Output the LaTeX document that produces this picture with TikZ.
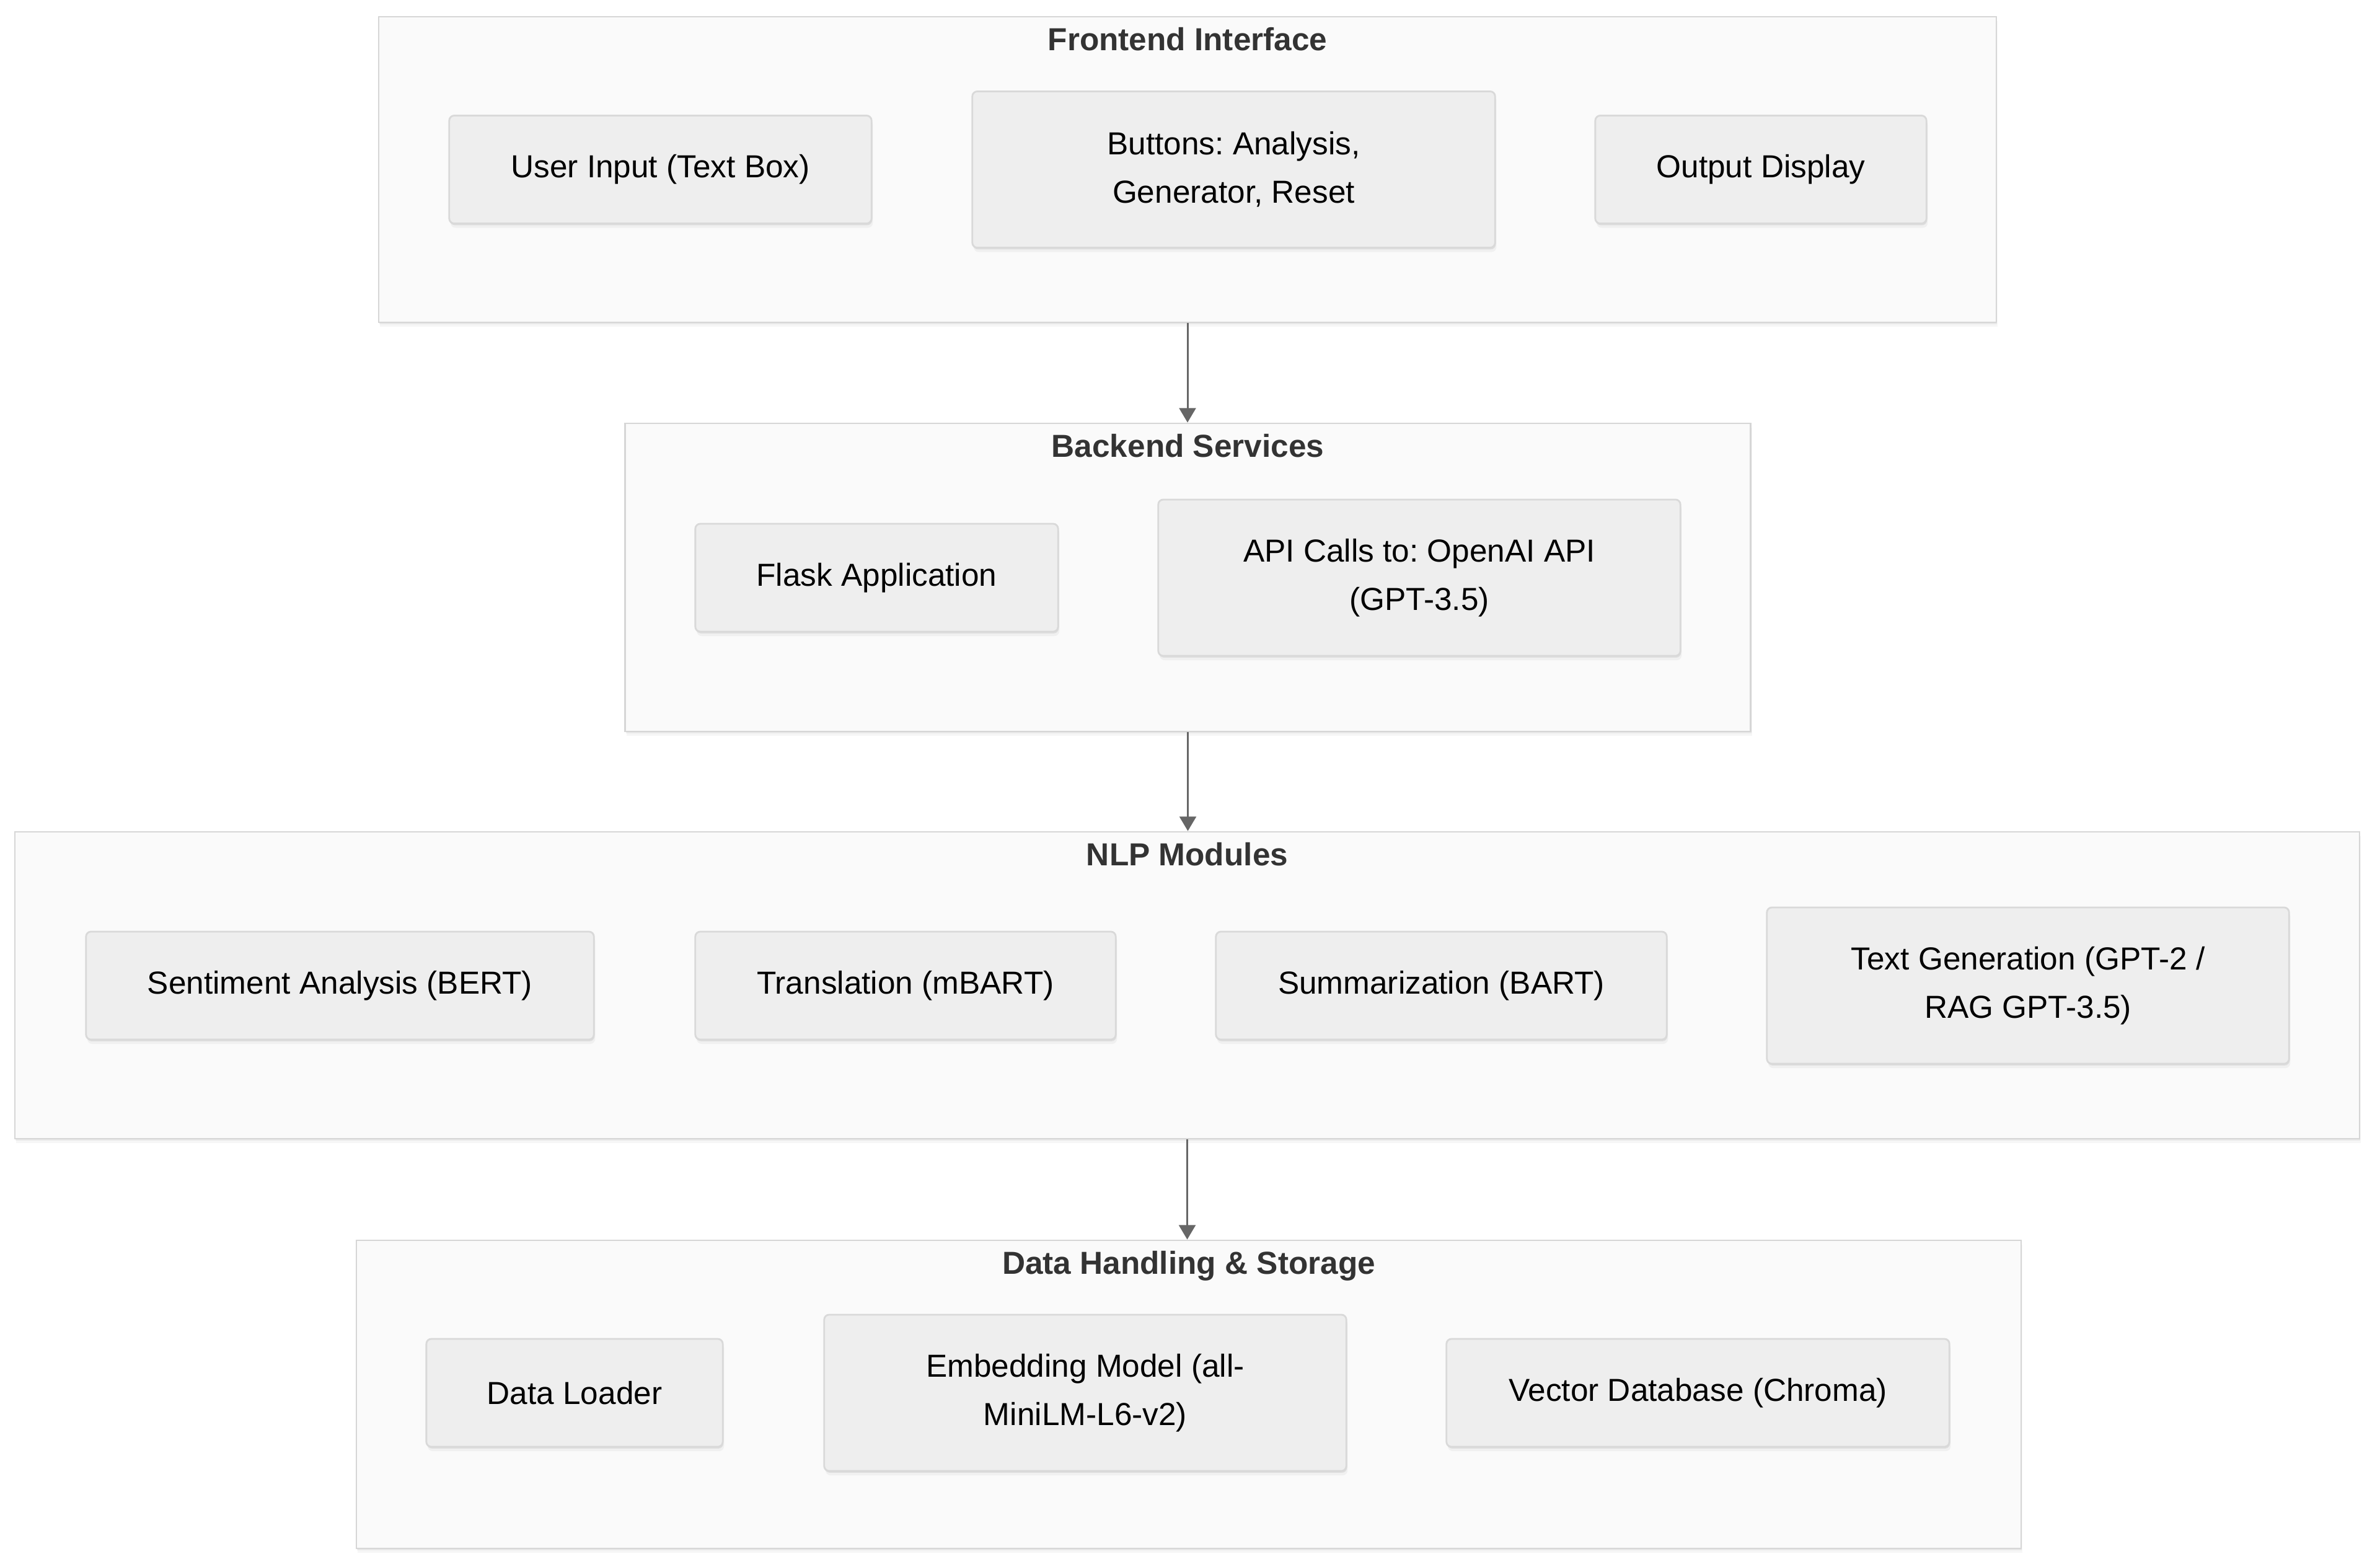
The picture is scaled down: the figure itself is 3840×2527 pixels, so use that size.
\documentclass[tikz,border=0pt]{standalone}
\usepackage{fontspec}
\setmainfont{Liberation Sans}
\frenchspacing
\usetikzlibrary{arrows.meta,shadows}
\definecolor{layerfill}{HTML}{FAFAFA}
\definecolor{layerline}{HTML}{D6D6D6}
\definecolor{modfill}{HTML}{EEEEEE}
\definecolor{modline}{HTML}{D9D9D9}
\definecolor{headtext}{HTML}{333333}
\definecolor{flowline}{HTML}{666666}

\begin{document}
\begin{tikzpicture}[x=0.01cm,y=-0.01cm,
    layer/.style={draw=layerline, line width=0.7pt, fill=layerfill, inner sep=0pt,
      drop shadow={shadow xshift=0.3pt, shadow yshift=-0.8pt, opacity=.12},
      drop shadow={shadow xshift=0.6pt, shadow yshift=-2pt, opacity=.07}},
    heading/.style={anchor=base, text=headtext, font=\fontsize{14.6pt}{18pt}\selectfont\bfseries},
    module/.style={draw=modline, line width=0.8pt, fill=modfill, rounded corners=2.3pt,
      minimum height=1.74cm, align=center, font=\fontsize{14.6pt}{22.2pt}\selectfont,
      drop shadow={shadow xshift=0.3pt, shadow yshift=-0.8pt, opacity=.15},
      drop shadow={shadow xshift=0.6pt, shadow yshift=-2pt, opacity=.08}},
    tall/.style={minimum height=2.52cm},
    flow/.style={draw=flowline, line width=0.85pt, -{Triangle[width=7.6pt,length=6.6pt]}}]
  \useasboundingbox (0,0) rectangle (3840,2527);

  % frontend
  \node[layer, minimum width=26.08cm, minimum height=4.93cm] (g1) at (1916,273.5) {};
  \node[heading] (t1) at ([yshift=-0.56cm]g1.north) {Frontend Interface};
  \node[module, minimum width=6.81cm] (r1c1) at (1065.5,273.5) {User Input (Text Box)};
  \node[module, tall, minimum width=8.43cm] (r1c2) at (1990.5,273.5) {Buttons: Analysis,\\ Generator, Reset};
  \node[module, minimum width=5.34cm] (r1c3) at (2841,273.5) {Output Display};

  % backend
  \node[layer, minimum width=18.15cm, minimum height=4.97cm] (g2) at (1916.5,931.5) {};
  \node[heading] (t2) at ([yshift=-0.56cm]g2.north) {Backend Services};
  \node[module, minimum width=5.85cm] (r2c1) at (1414.5,932) {Flask Application};
  \node[module, tall, minimum width=8.42cm] (r2c2) at (2290,932) {API Calls to: OpenAI API\\ (GPT-3.5)};

  % nlp
  \node[layer, minimum width=37.81cm, minimum height=4.95cm] (g3) at (1915.5,1589.5) {};
  \node[heading] (t3) at ([yshift=-0.56cm]g3.north) {NLP Modules};
  \node[module, minimum width=8.19cm] (r3c1) at (548.5,1590) {Sentiment Analysis (BERT)};
  \node[module, minimum width=6.78cm] (r3c2) at (1461,1590) {Translation (mBART)};
  \node[module, minimum width=7.27cm] (r3c3) at (2325.5,1590) {Summarization (BART)};
  \node[module, tall, minimum width=8.42cm] (r3c4) at (3272,1590) {Text Generation (GPT-2 /\\ RAG GPT-3.5)};

  % data
  \node[layer, minimum width=26.84cm, minimum height=4.97cm] (g4) at (1918,2249.5) {};
  \node[heading] (t4) at ([yshift=-0.56cm]g4.north) {Data Handling \& Storage};
  \node[module, minimum width=4.78cm] (r4c1) at (927,2247) {Data Loader};
  \node[module, tall, minimum width=8.42cm] (r4c2) at (1751,2247) {Embedding Model (all-\\ MiniLM-L6-v2)};
  \node[module, minimum width=8.11cm] (r4c3) at (2739.5,2247) {Vector Database (Chroma)};

  \draw[flow] (g1.south) -- (g1.south |- g2.north);
  \draw[flow] (g2.south) -- (g2.south |- g3.north);
  \draw[flow] (g3.south) -- (g3.south |- g4.north);
\end{tikzpicture}
\end{document}
